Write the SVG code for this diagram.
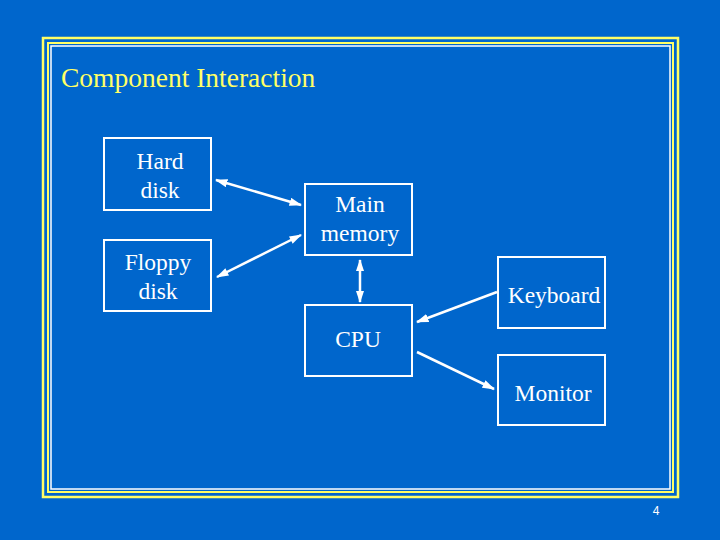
<svg xmlns="http://www.w3.org/2000/svg" width="720" height="540" viewBox="0 0 720 540">
<defs>
<marker id="a" viewBox="0 0 12 8" refX="11" refY="4" markerWidth="5" markerHeight="3.5" orient="auto-start-reverse"><path d="M0,0 L12,4 L0,8 z" fill="#fff"/></marker>
<style>
.b{fill:none;stroke:#fff;stroke-width:2}
.t{font-family:"Liberation Serif","Times New Roman",serif;font-size:23.5px;fill:#fff;text-anchor:middle}
.c{stroke:#fff;stroke-width:2.5;fill:none}
</style>
</defs>
<rect width="720" height="540" fill="#0066cc"/>
<rect x="43" y="38" width="635" height="459" fill="none" stroke="#ffff66" stroke-width="2.5"/>
<rect x="48" y="43" width="625" height="449" fill="none" stroke="#ffff66" stroke-width="2"/>
<rect x="51" y="46" width="619" height="443" fill="none" stroke="#fff" stroke-width="1.5"/>
<text x="61" y="87" font-family="'Liberation Serif','Times New Roman',serif" font-size="27.5" fill="#ffff66">Component Interaction</text>
<text x="656" y="515" font-family="'Liberation Sans',sans-serif" font-size="12" fill="#fff" text-anchor="middle">4</text>
<g id="hard"><rect class="b" x="104" y="138" width="107" height="72"/><text class="t" x="160" y="169">Hard</text><text class="t" x="160" y="198">disk</text></g>
<g id="floppy"><rect class="b" x="104" y="240" width="107" height="71"/><text class="t" x="158" y="270">Floppy</text><text class="t" x="158" y="299">disk</text></g>
<g id="mem"><rect class="b" x="305" y="184" width="107" height="71"/><text class="t" x="360" y="212">Main</text><text class="t" x="360" y="241">memory</text></g>
<g id="cpu"><rect class="b" x="305" y="305" width="107" height="71"/><text class="t" x="358" y="347">CPU</text></g>
<g id="kbd"><rect class="b" x="498" y="257" width="107" height="71"/><text class="t" x="554" y="303">Keyboard</text></g>
<g id="mon"><rect class="b" x="498" y="355" width="107" height="70"/><text class="t" x="553" y="401">Monitor</text></g>
<g id="connectors">
<line class="c" x1="216" y1="180" x2="301" y2="205" marker-start="url(#a)" marker-end="url(#a)"/>
<line class="c" x1="217" y1="277" x2="301" y2="235" marker-start="url(#a)" marker-end="url(#a)"/>
<line class="c" x1="360" y1="260" x2="360" y2="302" marker-start="url(#a)" marker-end="url(#a)"/>
<line class="c" x1="497" y1="292" x2="417" y2="322" marker-end="url(#a)"/>
<line class="c" x1="417" y1="352" x2="494" y2="389" marker-end="url(#a)"/>
</g>
</svg>
